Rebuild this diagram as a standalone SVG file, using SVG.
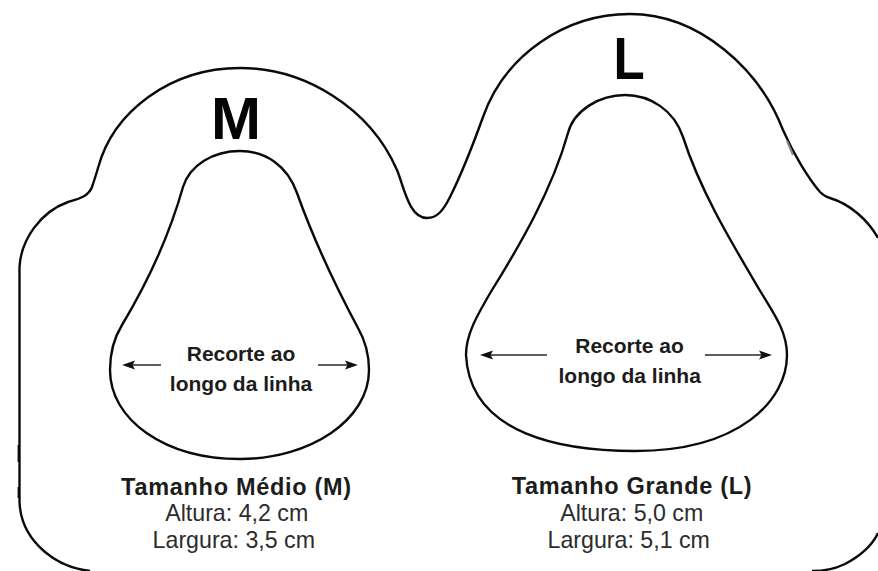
<svg xmlns="http://www.w3.org/2000/svg" width="878" height="571" viewBox="0 0 878 571">
<style>
.o{fill:none;stroke:#0a0a0a;stroke-width:2.4}
.a{fill:none;stroke:#2a2a2a;stroke-width:1.4}
.h{fill:#111}
text{font-family:"Liberation Sans",Arial,sans-serif;text-anchor:middle;fill:#1c1c1c}
.b{font-weight:bold;font-size:23.5px;letter-spacing:.7px}
.r{font-size:23.2px;fill:#2c2c2c}
.c{font-weight:bold;font-size:21px}
.big{font-weight:bold;fill:#050505;font-size:60px}
</style>
<rect width="878" height="571" fill="#fff"/>
<g id="outline">
<path class="o" d="M19.5 501V267C21 240 40 212 68 202C78 199 88 197 92 187C94 181 96 175 98 168C113 112 170 68 240 68C305 68 370 108 397 170C404 187 409 218 427 218C437 218 443 211 450 197C462 173 474 142 483 117C505 55 565 14 630 14C700 14 760 70 783 130C793 153 808 178 820 192C823 195 826 197 830 198C850 204 868 220 878 238"/>
<path class="o" d="M19.5 501C20 525 32 541 45 552C58 563 72 569 90 571"/>
<path class="o" d="M878 533C872 546 860 556 845 564C835 569 825 571 812 571"/>
<path class="o" d="M18.8 445V462M18.8 487V498"/>
<path fill="none" stroke="#888" stroke-width="2" d="M787 141L793 155"/>
</g>
<g id="cutout-m"><path class="o" d="M240 151C265 151 287 165 297 193C312 235 335 285 358 328C366 342 369 355 369 370C369 420 310 459 240 459C165 459 110 420 110 370C110 352 114 338 122 325C143 290 168 240 183 187C190 165 213 151 240 151Z"/></g>
<g id="cutout-l"><path class="o" d="M625 95C650 95 674 110 683 137C700 190 730 240 759 289C772 311 787 330 787 355C787 400 740 451 635 451C565 451 470 436 466 355C466 335 476 317 492 290C520 245 552 190 568 133C574 110 600 95 625 95Z"/></g>
<g id="labels-m">
<text class="big" x="236" y="139">M</text>
<text class="c" x="241" y="361">Recorte ao</text>
<text class="c" x="241" y="390.5">longo da linha</text>
<text class="b" x="236.5" y="494.5">Tamanho Médio (M)</text>
<text class="r" x="236.7" y="521">Altura: 4,2 cm</text>
<text class="r" x="233.8" y="548">Largura: 3,5 cm</text>
</g>
<g id="labels-l">
<text class="big" transform="translate(630 79) scale(.85 1)" x="-1" y="0">L</text>
<text class="c" x="629.5" y="353">Recorte ao</text>
<text class="c" x="629.7" y="382.5">longo da linha</text>
<text class="b" x="632" y="494">Tamanho Grande (L)</text>
<text class="r" x="631.7" y="521">Altura: 5,0 cm</text>
<text class="r" x="628.7" y="547.7">Largura: 5,1 cm</text>
</g>
<g id="connectors">
<path class="a" d="M128 365H161M318 365H352M486 355H547M705 355H766"/>
<path class="h" d="M122 365l13-4.5-2.5 4.5 2.5 4.5zM358 365l-13-4.5 2.5 4.5-2.5 4.5zM480 355l13-4.5-2.5 4.5 2.5 4.5zM772 355l-13-4.5 2.5 4.5-2.5 4.5z"/>
</g>
</svg>
